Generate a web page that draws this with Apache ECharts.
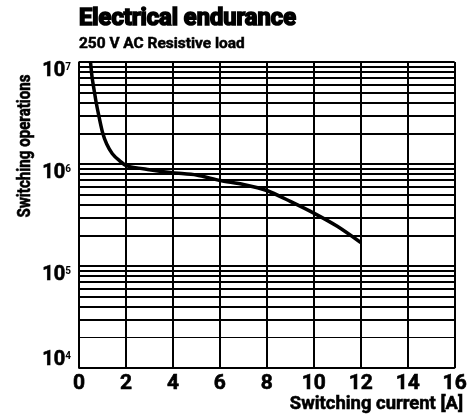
<!DOCTYPE html>
<html>
<head>
<meta charset="utf-8">
<script src="https://cdn.jsdelivr.net/npm/echarts@6/dist/echarts.min.js"></script>
<style>
  html, body { margin: 0; padding: 0; background: #fff; }
  #chart { width: 470px; height: 417px; }
</style>
</head>
<body>
<div id="chart"></div>
<script>
const FONT = 'Roboto, "Liberation Sans", sans-serif'

// switching current [A] and switching operations
const currentA = [0.49, 0.56, 0.65, 0.72, 0.83, 1.0, 1.18, 1.42, 1.7, 2.04, 3.0, 4.0, 5.0, 6.0, 7.0, 8.0, 9.0, 10.0, 11.0, 12.0]
const operations = [1e7, 7e6, 5.2e6, 4.15e6, 3.08e6, 2.05e6, 1.57e6, 1.26e6, 1.09e6, 9.6e5, 8.8e5, 8.2e5, 7.8e5, 6.9e5, 6.3e5, 5.5e5, 4.3e5, 3.3e5, 2.45e5, 1.7e5]

// log paper: decades and the minor lines inside each one
const decades = [1e4, 1e5, 1e6]
const minorSteps = [2, 3, 4, 5, 6, 7, 8, 9]
const minorLines = []
decades.forEach(d => minorSteps.forEach(m => minorLines.push(d * m)))

const chart = echarts.init(document.getElementById('chart'))

function powLabel(v) {
  const e = Math.round(Math.log10(v))
  return '{b|10}{s|' + e + '}'
}
const labelRich = {
  b: { fontFamily: FONT, fontWeight: 'bold', fontSize: 20, color: '#000', lineHeight: 17, textBorderColor: '#000', textBorderWidth: 0.6 },
  s: { fontFamily: FONT, fontWeight: 'bold', fontSize: 10, color: '#000', verticalAlign: 'top', lineHeight: 17 }
}

function txt(text, x, y, size, align, sx, weight, extra) {
  return Object.assign({
    type: 'text',
    x: x,
    y: y,
    scaleX: sx,
    style: {
      text: text,
      fontFamily: FONT, fontWeight: 'bold', fontSize: size, fill: '#000',
      stroke: '#000', lineWidth: weight,
      textAlign: align, textVerticalAlign: 'middle'
    }
  }, extra || {})
}

chart.setOption({
  animation: false,
  grid: { left: 79, right: 7, top: 62, bottom: 49, containLabel: false },
  graphic: [
    txt('Electrical endurance', 79, 19, 23, 'left', 1.03, 1.6),
    txt('250 V AC Resistive load', 79, 44, 15, 'left', 1.03, 0.5),
    txt('Switching operations', 25, 146, 18, 'center', 0.84, 0.6, { rotation: Math.PI / 2 }),
    txt('Switching current [A]', 463, 404, 19, 'right', 0.97, 0.6)
  ],
  xAxis: {
    type: 'value',
    min: 0,
    max: 16,
    interval: 2,
    axisLine: { show: true, lineStyle: { color: '#000', width: 1.5 } },
    axisTick: { show: false },
    axisLabel: {
      fontFamily: FONT, fontWeight: 'bold', fontSize: 21, color: '#000', margin: 5,
      textBorderColor: '#000', textBorderWidth: 0.6
    },
    splitLine: { show: true, lineStyle: { color: '#000', width: 2 } }
  },
  yAxis: [
    {
      type: 'log',
      logBase: 10,
      min: 1e4,
      max: 1e7,
      axisLine: { show: true, lineStyle: { color: '#000', width: 1.5 } },
      axisTick: { show: false },
      axisLabel: {
        margin: 8,
        verticalAlign: 'top',
        formatter: v => (Math.round(Math.log10(v)) === 4 ? '' : powLabel(v)),
        rich: labelRich
      },
      splitLine: { show: true, lineStyle: { color: '#000', width: 2 } }
    },
    {
      // only carries the bottom label, which sits above its line
      type: 'log',
      logBase: 10,
      min: 1e4,
      max: 1e7,
      position: 'left',
      axisLine: { show: false },
      axisTick: { show: false },
      splitLine: { show: false },
      axisLabel: {
        margin: 8,
        verticalAlign: 'bottom',
        formatter: v => (Math.round(Math.log10(v)) === 4 ? powLabel(v) : ''),
        rich: labelRich
      }
    }
  ],
  series: [
    {
      name: 'grid',
      type: 'line',
      data: [],
      z: 1,
      markLine: {
        silent: true,
        symbol: 'none',
        animation: false,
        label: { show: false },
        lineStyle: { color: '#000', width: 2, type: 'solid' },
        data: minorLines.map(v => ({ yAxis: v, lineStyle: { width: v < 3e4 ? 1.2 : 2 } }))
      }
    },
    {
      name: 'endurance',
      type: 'line',
      z: 5,
      data: currentA.map((x, i) => [x, operations[i]]),
      showSymbol: false,
      smooth: 0.25,
      lineStyle: { color: '#000', width: 3.5 }
    }
  ]
})
</script>
</body>
</html>
